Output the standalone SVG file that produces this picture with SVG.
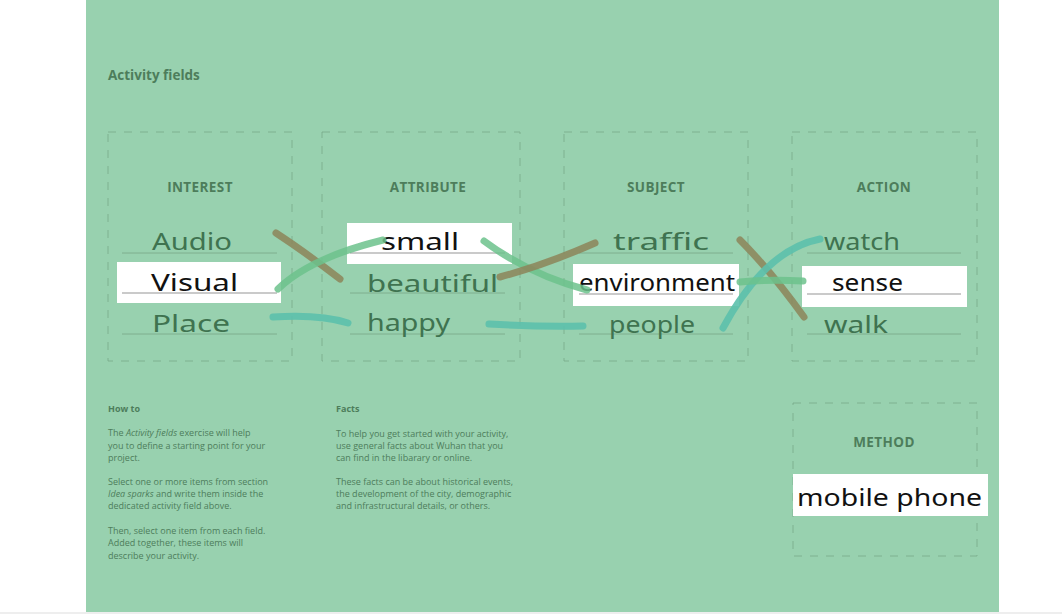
<svg xmlns="http://www.w3.org/2000/svg" width="1062" height="614" viewBox="0 0 1062 614">
<style>
.bg{fill:#98d1af}
.box{fill:none;stroke:#7bab8b;stroke-width:1;stroke-dasharray:8 8;opacity:0.85}
.hdr{font-family:"Open Sans","Liberation Sans",sans-serif;font-size:13.5px;font-weight:700;fill:#4d7d5b;text-anchor:middle;letter-spacing:0.4px}
.title{font-family:"Open Sans","Liberation Sans",sans-serif;font-size:13.5px;font-weight:700;fill:#4d7d5b}
.hw{font-family:"Noto Sans","DejaVu Sans",sans-serif;font-size:24px;fill:#3f7350}
.sel{fill:#111}
.ul{stroke:#7fae8e;stroke-width:1}
.ulw{stroke:#b8b8b8;stroke-width:1.5}
.wb{fill:#ffffff}
.body{font-family:"Open Sans","Liberation Sans",sans-serif;font-size:9px;fill:#4d7d5b}
.bh{font-weight:700}
.st{fill:none;stroke-linecap:round;stroke-width:7}
.brown{stroke:#8c8559;opacity:0.85}
.green{stroke:#6cc28c;opacity:0.85}
.teal{stroke:#5cc0ac;opacity:0.9}
</style>
<rect x="0" y="0" width="1062" height="614" fill="#ffffff"/>
<rect class="bg" x="86" y="0" width="913" height="612"/>
<rect x="0" y="612" width="1062" height="2" fill="#eeeeee"/>

<text class="title" x="108" y="80">Activity fields</text>

<g id="interest">
<rect class="box" x="108" y="132" width="184" height="229"/>
<text class="hdr" x="200" y="192">INTEREST</text>
<line class="ul" x1="122" y1="253" x2="277" y2="253"/>
<rect class="wb" x="117" y="262" width="164" height="41"/>
<line class="ulw" x1="122" y1="293" x2="277" y2="293"/>
<line class="ul" x1="122" y1="334" x2="277" y2="334"/>
<text class="hw" x="152" y="250" textLength="80" lengthAdjust="spacingAndGlyphs">Audio</text>
<text class="hw sel" x="151" y="291" textLength="87" lengthAdjust="spacingAndGlyphs">Visual</text>
<text class="hw" x="152" y="332" textLength="78" lengthAdjust="spacingAndGlyphs">Place</text>
</g>

<g id="attribute">
<rect class="box" x="322" y="132" width="198" height="229"/>
<text class="hdr" x="428" y="192">ATTRIBUTE</text>
<rect class="wb" x="347" y="223" width="165" height="41"/>
<line class="ulw" x1="350" y1="253" x2="505" y2="253"/>
<line class="ul" x1="350" y1="293" x2="505" y2="293"/>
<line class="ul" x1="350" y1="334" x2="505" y2="334"/>
<text class="hw sel" x="381" y="250" textLength="78" lengthAdjust="spacingAndGlyphs">small</text>
<text class="hw" x="367" y="292" textLength="131" lengthAdjust="spacingAndGlyphs">beautiful</text>
<text class="hw" x="367" y="331" textLength="83" lengthAdjust="spacingAndGlyphs">happy</text>
</g>

<g id="subject">
<rect class="box" x="564" y="132" width="184" height="229"/>
<text class="hdr" x="656" y="192">SUBJECT</text>
<line class="ul" x1="579" y1="253" x2="733" y2="253"/>
<rect class="wb" x="573" y="264" width="166" height="42"/>
<line class="ulw" x1="579" y1="294" x2="733" y2="294"/>
<line class="ul" x1="579" y1="334" x2="733" y2="334"/>
<text class="hw" x="613" y="250" textLength="96" lengthAdjust="spacingAndGlyphs">traffic</text>
<text class="hw sel" x="579" y="291" textLength="156" lengthAdjust="spacingAndGlyphs">environment</text>
<text class="hw" x="609" y="333" textLength="86" lengthAdjust="spacingAndGlyphs">people</text>
</g>

<g id="action">
<rect class="box" x="792" y="132" width="185" height="229"/>
<text class="hdr" x="884" y="192">ACTION</text>
<line class="ul" x1="807" y1="253" x2="961" y2="253"/>
<rect class="wb" x="802" y="266" width="165" height="41"/>
<line class="ulw" x1="807" y1="294" x2="961" y2="294"/>
<line class="ul" x1="807" y1="334" x2="961" y2="334"/>
<text class="hw" x="824" y="250" textLength="76" lengthAdjust="spacingAndGlyphs">watch</text>
<text class="hw sel" x="832" y="291" textLength="71" lengthAdjust="spacingAndGlyphs">sense</text>
<text class="hw" x="824" y="333" textLength="64" lengthAdjust="spacingAndGlyphs">walk</text>
</g>

<g id="connectors">
<path class="st brown" d="M276 233 Q305 252 340 279"/>
<path class="st green" d="M278 289 Q310 258 383 240"/>
<path class="st teal" d="M273 317 Q320 314 348 323"/>
<path class="st green" d="M484 241 Q530 275 587 290"/>
<path class="st brown" d="M500 277 Q545 265 595 243"/>
<path class="st teal" d="M489 324 Q540 327 583 326"/>
<path class="st brown" d="M740 240 Q770 270 804 317"/>
<path class="st teal" d="M723 328 Q765 250 820 239"/>
<path class="st green" d="M740 282 Q770 279 803 281"/>
</g>

<g id="howto">
<text class="body bh" x="108" y="412">How to</text>
<text class="body" x="108" y="436">The <tspan font-style="italic">Activity fields</tspan> exercise will help</text>
<text class="body" x="108" y="449">you to define a starting point for your</text>
<text class="body" x="108" y="461">project.</text>
<text class="body" x="108" y="485">Select one or more items from section</text>
<text class="body" x="108" y="497"><tspan font-style="italic">Idea sparks</tspan> and write them inside the</text>
<text class="body" x="108" y="509">dedicated activity field above.</text>
<text class="body" x="108" y="534">Then, select one item from each field.</text>
<text class="body" x="108" y="546">Added together, these items will</text>
<text class="body" x="108" y="559">describe your activity.</text>
</g>

<g id="facts">
<text class="body bh" x="336" y="412">Facts</text>
<text class="body" x="336" y="437">To help you get started with your activity,</text>
<text class="body" x="336" y="449">use general facts about Wuhan that you</text>
<text class="body" x="336" y="461">can find in the libarary or online.</text>
<text class="body" x="336" y="485">These facts can be about historical events,</text>
<text class="body" x="336" y="497">the development of the city, demographic</text>
<text class="body" x="336" y="509">and infrastructural details, or others.</text>
</g>

<g id="method">
<rect class="box" x="793" y="403" width="184" height="153"/>
<text class="hdr" x="884" y="447">METHOD</text>
<rect class="wb" x="793" y="474" width="195" height="42"/>
<text class="hw sel" x="797" y="506" textLength="185" lengthAdjust="spacingAndGlyphs">mobile phone</text>
</g>
</svg>
